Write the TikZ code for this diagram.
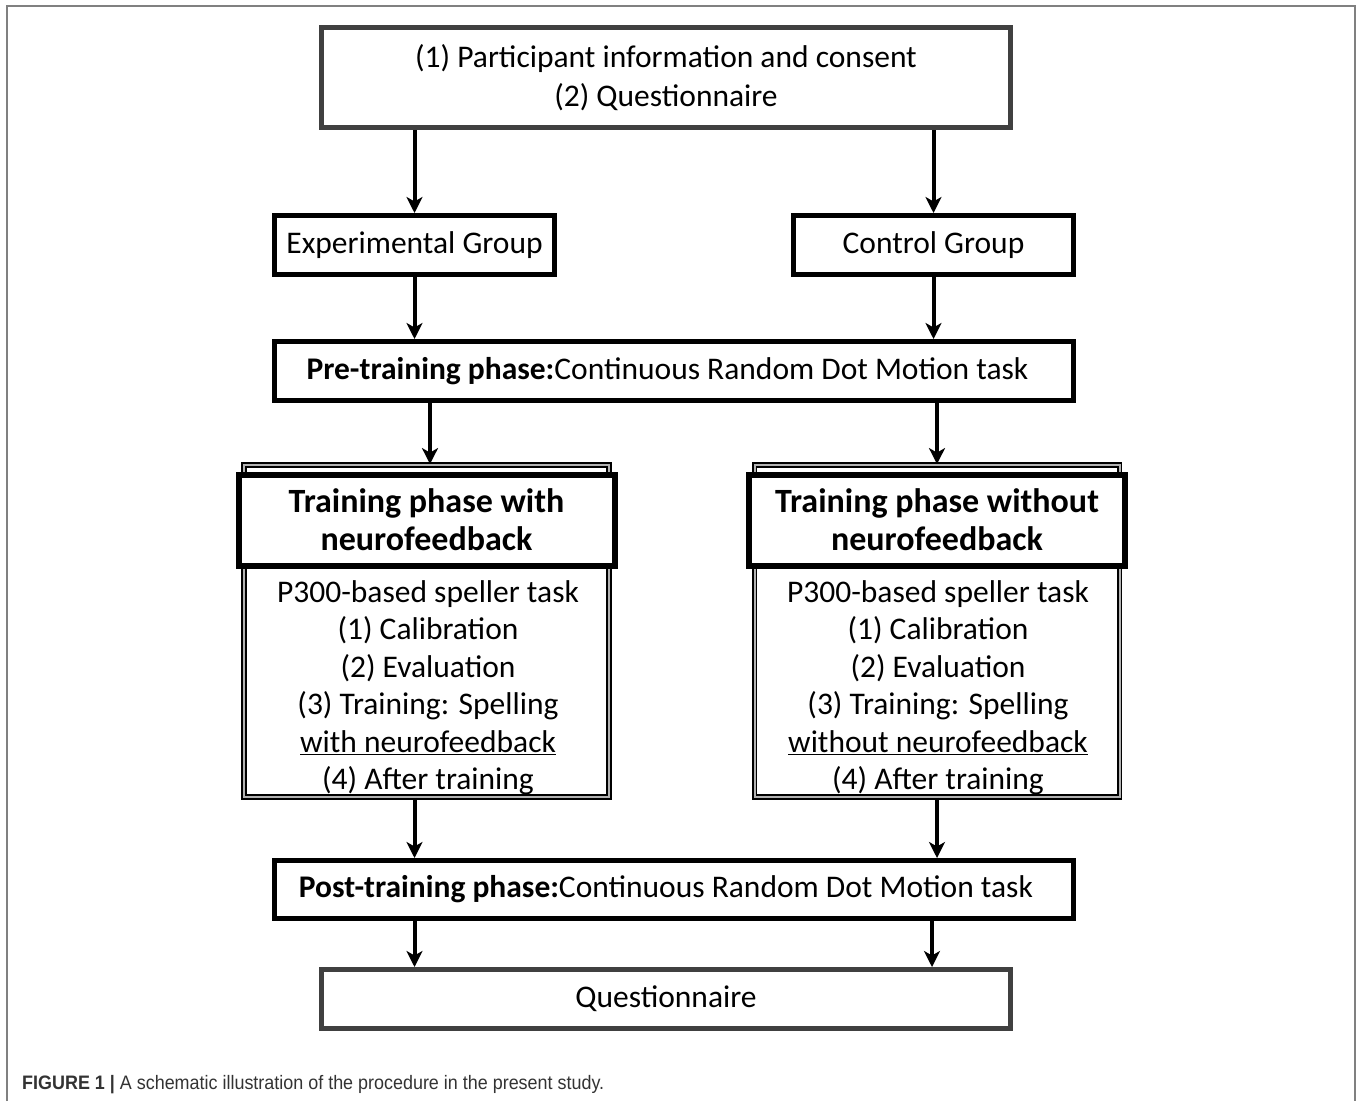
\documentclass[tikz,border=0pt]{standalone}
\usepackage{fontspec}
\setmainfont{Carlito}
\newfontfamily\capfont[FakeStretch=0.92]{Liberation Sans}
\usetikzlibrary{arrows.meta,calc}
\definecolor{capgray}{HTML}{333333}
\definecolor{dkgray}{HTML}{404040}
\begin{document}
\begin{tikzpicture}[x=1pt,y=-1pt,
  txt/.style={font=\fontsize{31.5}{37.4}\selectfont, align=center},
  box/.style={txt, draw=black, line width=5pt, fill=white, inner sep=0pt},
  graybox/.style={box, draw=dkgray},
  titlebox/.style={box, line width=6pt, font=\fontsize{34}{38}\selectfont\bfseries},
  outerbox/.style={draw=black, line width=1.8pt, double=gray!60, double distance=2pt, fill=white, inner sep=0pt},
  arr/.style={line width=4pt, -{Stealth[length=16pt,width=16pt,inset=4.5pt]}},
]
\useasboundingbox (0,0) rectangle (1358,1101);
% outer frame
\draw[gray, line width=2pt] (7,1101) -- (7,6) -- (1355,6) -- (1355,1101);

% top box
\node[graybox, minimum width=689pt, minimum height=100pt, font=\fontsize{31.5}{39}\selectfont] (info) at (666,77.5)
  {(1) Participant information and consent\\(2) Questionnaire};

% groups
\node[box, minimum width=280pt, minimum height=59pt] (exp) at (414.5,245) {Experimental Group};
\node[box, minimum width=280pt, minimum height=59pt] (ctrl) at (933.5,245) {Control Group};

% pre-training
\node[box, minimum width=799pt, minimum height=59pt] (pre) at (674,371)
  {\hspace*{-13pt}\textbf{Pre-training phase:}Continuous Random Dot Motion task};

% training boxes
\node[outerbox, minimum width=365pt, minimum height=332pt] (lout) at (426.5,631) {};
\node[outerbox, minimum width=365pt, minimum height=332pt] (rout) at (937,631) {};
\node[titlebox, minimum width=376pt, minimum height=91pt] (ltitle) at (426.5,520)
  {Training phase with\\neurofeedback};
\node[titlebox, minimum width=376pt, minimum height=91pt] (rtitle) at (937,520)
  {Training phase without\\neurofeedback};
\node[txt, anchor=north, inner sep=0pt] (lbody) at (428,580.5)
  {P300-based speller task\\(1) Calibration\\(2) Evaluation\\(3) Training: Spelling\\\underline{with neurofeedback}\\(4) After training};
\node[txt, anchor=north, inner sep=0pt] (rbody) at (938,580.5)
  {P300-based speller task\\(1) Calibration\\(2) Evaluation\\(3) Training: Spelling\\\underline{without neurofeedback}\\(4) After training};

% post-training
\node[box, minimum width=799pt, minimum height=58pt] (post) at (674,889.5)
  {\hspace*{-16pt}\textbf{Post-training phase:}Continuous Random Dot Motion task};

% final questionnaire
\node[graybox, minimum width=689pt, minimum height=59pt] (quest) at (666,999) {Questionnaire};

% caption
\node[anchor=base west, inner sep=0pt, text=capgray, font=\capfont\fontsize{19.5}{22}\selectfont] (cap) at (22,1089)
  {\textbf{FIGURE 1 |} A schematic illustration of the procedure in the present study.};

% arrows
\draw[arr] (exp.north |- info.south) -- (exp.north);
\draw[arr] (ctrl.north |- info.south) -- (ctrl.north);
\draw[arr] (exp.south) -- (exp.south |- pre.north);
\draw[arr] (ctrl.south) -- (ctrl.south |- pre.north);
\draw[arr] ([xshift=3.5pt]lout.north |- pre.south) -- ([xshift=3.5pt]lout.north);
\draw[arr] (rout.north |- pre.south) -- (rout.north);
\draw[arr] (exp.south |- lout.south) -- (exp.south |- post.north);
\draw[arr] (rout.south) -- (rout.south |- post.north);
\draw[arr] (exp.south |- post.south) -- (exp.south |- quest.north);
\draw[arr] ([xshift=-1.5pt]ctrl.south |- post.south) -- ([xshift=-1.5pt]ctrl.south |- quest.north);
\end{tikzpicture}
\end{document}
